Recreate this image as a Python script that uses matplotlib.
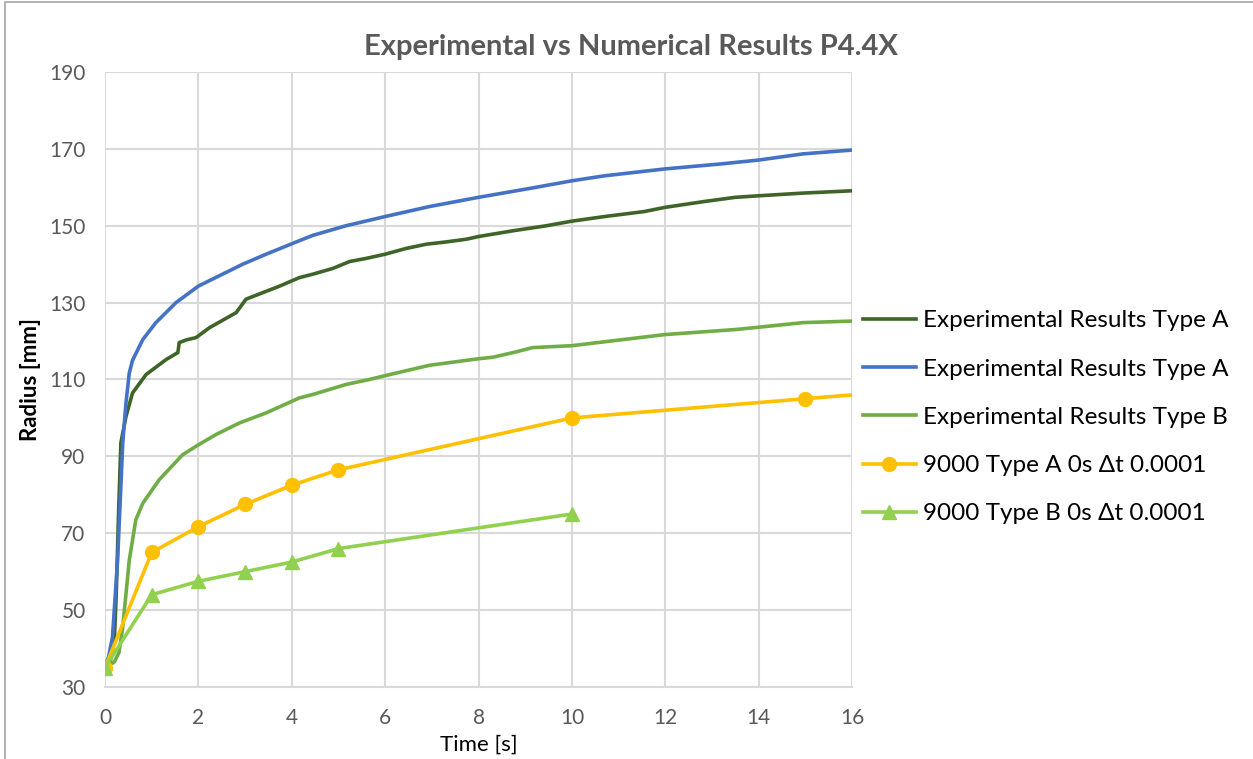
import matplotlib
matplotlib.use("Agg")
import matplotlib.pyplot as plt
from matplotlib.lines import Line2D

plt.rcParams['font.family'] = ['Lato', 'DejaVu Sans']

# Experimental Results Type A (first run, dark green)
t_exp_a1 = [0, 0.12, 0.2, 0.24, 0.29, 0.34, 0.45, 0.59, 0.88, 1.31, 1.56, 1.59, 1.74,
            1.95, 2.24, 2.81, 3.02, 3.74, 4.16, 4.45, 4.88, 5.24, 5.59, 6.0,
            6.45, 6.88, 7.31, 7.74, 8.0, 8.74, 9.45, 10.0, 10.7, 11.55, 12.0, 12.83,
            13.5, 14.0, 14.95, 16.0]
r_exp_a1 = [35, 37, 42, 54, 75, 93.5, 100.4, 106.5, 111.3, 115.2, 117, 119.6, 120.3,
            120.9, 123.5, 127.4, 130.9, 134.3, 136.5, 137.4, 138.9, 140.7,
            141.5, 142.6, 144.1, 145.2, 145.8, 146.5, 147.2, 148.7, 150, 151.2, 152.4,
            153.7, 154.8, 156.3, 157.4, 157.8, 158.5, 159.1]

# Experimental Results Type A (second run, blue)
t_exp_a2 = [0, 0.08, 0.16, 0.27, 0.38, 0.45, 0.52, 0.59, 0.81, 1.09, 1.52, 2.0, 2.45,
            2.95, 3.45, 4.16, 4.45, 5.16, 6.0, 6.95, 8.0, 9.09, 10.0, 10.7,
            12.0, 13.2, 14.0, 14.95, 16.0]
r_exp_a2 = [35, 38, 43, 63, 93.5, 104, 111.7, 115, 120.4, 124.8, 130, 134.3, 137,
            140, 142.6, 146.1, 147.5, 150, 152.4, 155, 157.4, 159.7, 161.7, 163.0,
            164.8, 166.1, 167.1, 168.7, 169.7]

# Experimental Results Type B (green)
t_exp_b = [0, 0.2, 0.3, 0.38, 0.52, 0.66, 0.81, 1.16, 1.66, 2.0, 2.38, 2.88, 3.45,
           4.16, 4.45, 5.16, 5.66, 6.0, 6.95, 8.0, 8.31, 8.74, 9.16,
           10.0, 12.0, 13.5, 14.0, 14.95, 16.0]
r_exp_b = [35, 36.5, 39, 45.6, 63, 73.5, 77.8, 83.9, 90.4, 93, 95.7, 98.7, 101.3,
           105.2, 106.1, 108.7, 110, 111, 113.7, 115.4, 115.8, 117, 118.3,
           118.8, 121.7, 123, 123.6, 124.8, 125.2]

# Numerical results
t_num_a = [0, 1, 2, 3, 4, 5, 10, 15, 20]
r_num_a = [35, 65, 71.7, 77.5, 82.5, 86.5, 100, 105, 110]

t_num_b = [0, 1, 2, 3, 4, 5, 10]
r_num_b = [35, 54, 57.5, 60, 62.5, 66, 75]

labels = ["Experimental Results Type A", "Experimental Results Type A",
          "Experimental Results Type B", "9000 Type A 0s \u0394t 0.0001",
          "9000 Type B 0s \u0394t 0.0001"]

c_dkgreen = "#3F6428"
c_blue = "#4472C4"
c_green = "#70AD47"
c_orange = "#FFC000"
c_ltgreen = "#92D050"
grey = "#595959"

fig = plt.figure(figsize=(12.53, 7.59), dpi=100)
ax = fig.add_axes([0.0838, 0.0949, 0.5962, 0.8102])

lw = 2.6
ax.plot(t_exp_a1, r_exp_a1, color=c_dkgreen, lw=lw, label=labels[0], zorder=4)
ax.plot(t_exp_a2, r_exp_a2, color=c_blue, lw=lw, label=labels[1], zorder=4)
ax.plot(t_exp_b, r_exp_b, color=c_green, lw=lw, label=labels[2], zorder=4)
ax.plot(t_num_a, r_num_a, color=c_orange, lw=lw, marker='o', ms=10,
        label=labels[3], zorder=5)
ax.plot(t_num_b, r_num_b, color=c_ltgreen, lw=lw, marker='^', ms=10,
        label=labels[4], zorder=5)

ax.set_xlim(0, 16)
ax.set_ylim(30, 190)
ax.set_xticks(range(0, 17, 2))
ax.set_yticks(range(30, 191, 20))
ax.grid(True, color="#D9D9D9", lw=1.5)
ax.set_axisbelow(True)
for s in ax.spines.values():
    s.set_visible(False)
ax.spines['bottom'].set_visible(True)
ax.spines['bottom'].set_color("#D9D9D9")
ax.spines['bottom'].set_linewidth(1.5)
ax.tick_params(length=0, labelsize=15, colors=grey, pad=14)
ax.tick_params(axis='x', pad=15)

ax.set_xlabel("Time [s]", fontsize=16, color="black", labelpad=5)
ax.set_ylabel("Radius [mm]", fontsize=16, color="black", fontweight='bold', labelpad=6)
fig.text(0.5036, 0.938, "Experimental vs Numerical Results P4.4X", ha='center',
         va='center', fontsize=21, fontweight='bold', color=grey)

handles = [Line2D([], [], color=c_dkgreen, lw=lw),
           Line2D([], [], color=c_blue, lw=lw),
           Line2D([], [], color=c_green, lw=lw),
           Line2D([], [], color=c_orange, lw=lw, marker='o', ms=10),
           Line2D([], [], color=c_ltgreen, lw=lw, marker='^', ms=10)]
fig.legend(handles, labels, loc='center left', bbox_to_anchor=(0.671, 0.45),
           frameon=False, fontsize=17.5, handlelength=2.2, handletextpad=0.3,
           labelspacing=1.12)

# chart-area border
fig.add_artist(plt.Rectangle((0.004, -0.01), 1.2, 1.007, transform=fig.transFigure,
                             fill=False, edgecolor="#A6A6A6", lw=1.2))

fig.savefig("out.png", dpi=100)
